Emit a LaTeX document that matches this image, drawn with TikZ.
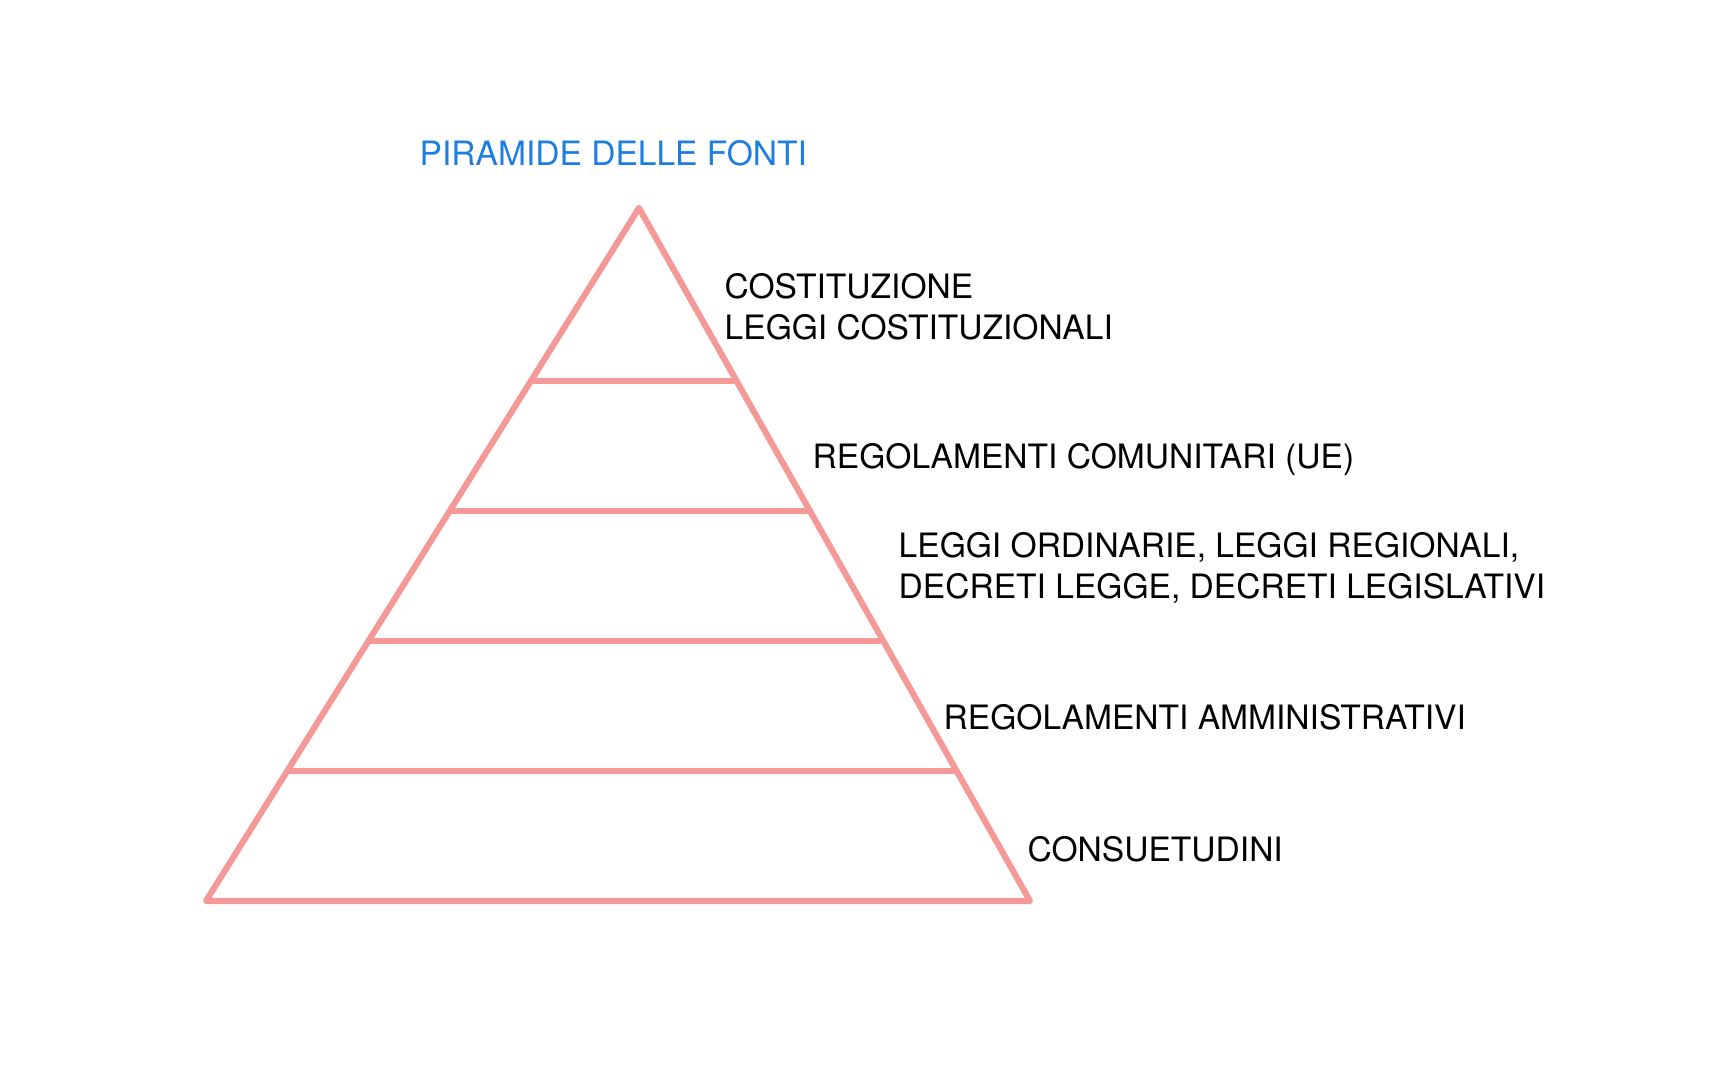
\documentclass[tikz,border=0pt]{standalone}
\usepackage{fontspec}
\setmainfont{TeX Gyre Heros}
\usetikzlibrary{calc,positioning}
\definecolor{rosa}{RGB}{244,152,152}
\definecolor{azzurro}{RGB}{28,125,226}

\begin{document}
\begin{tikzpicture}
[y=-1cm,line join=round,line cap=round,
 gradino/.style = {draw=rosa, line width=1.75pt},
 fonte/.style = {anchor=west, inner sep=0pt, align=left, font=\fontsize{9.55}{11.7}\selectfont},
 titolo/.style = {fonte, text=azzurro},]
\useasboundingbox (0,0) rectangle (17.28,10.80);
\coordinate (A) at (6.39,2.08);
\coordinate (L) at (2.06,9.01);
\coordinate (R) at (10.30,9.01);
\draw[gradino] (A)--(L)--(R)--cycle;
\foreach \t/\n in {0.25/1,0.4375/2,0.625/3,0.8125/4}
  \draw[gradino] ($(A)!\t!(L)$) coordinate (s\n) -- ($(A)!\t!(R)$) coordinate (d\n);
\node (titolo) at (4.19,1.53)[titolo] {PIRAMIDE DELLE FONTI};
\node (costituzione) at (7.24,3.07)[fonte] {COSTITUZIONE\\LEGGI COSTITUZIONALI};
\node (ue) at (8.12,4.60)[fonte] {REGOLAMENTI COMUNITARI (UE)};
\node (leggi) at (8.98,5.68)[fonte] {LEGGI ORDINARIE, LEGGI REGIONALI,\\DECRETI LEGGE, DECRETI LEGISLATIVI};
\node (regolamenti) at (9.43,7.17)[fonte] {REGOLAMENTI AMMINISTRATIVI};
\node (consuetudini) at (10.27,8.49)[fonte] {CONSUETUDINI};
\end{tikzpicture}
\end{document}
